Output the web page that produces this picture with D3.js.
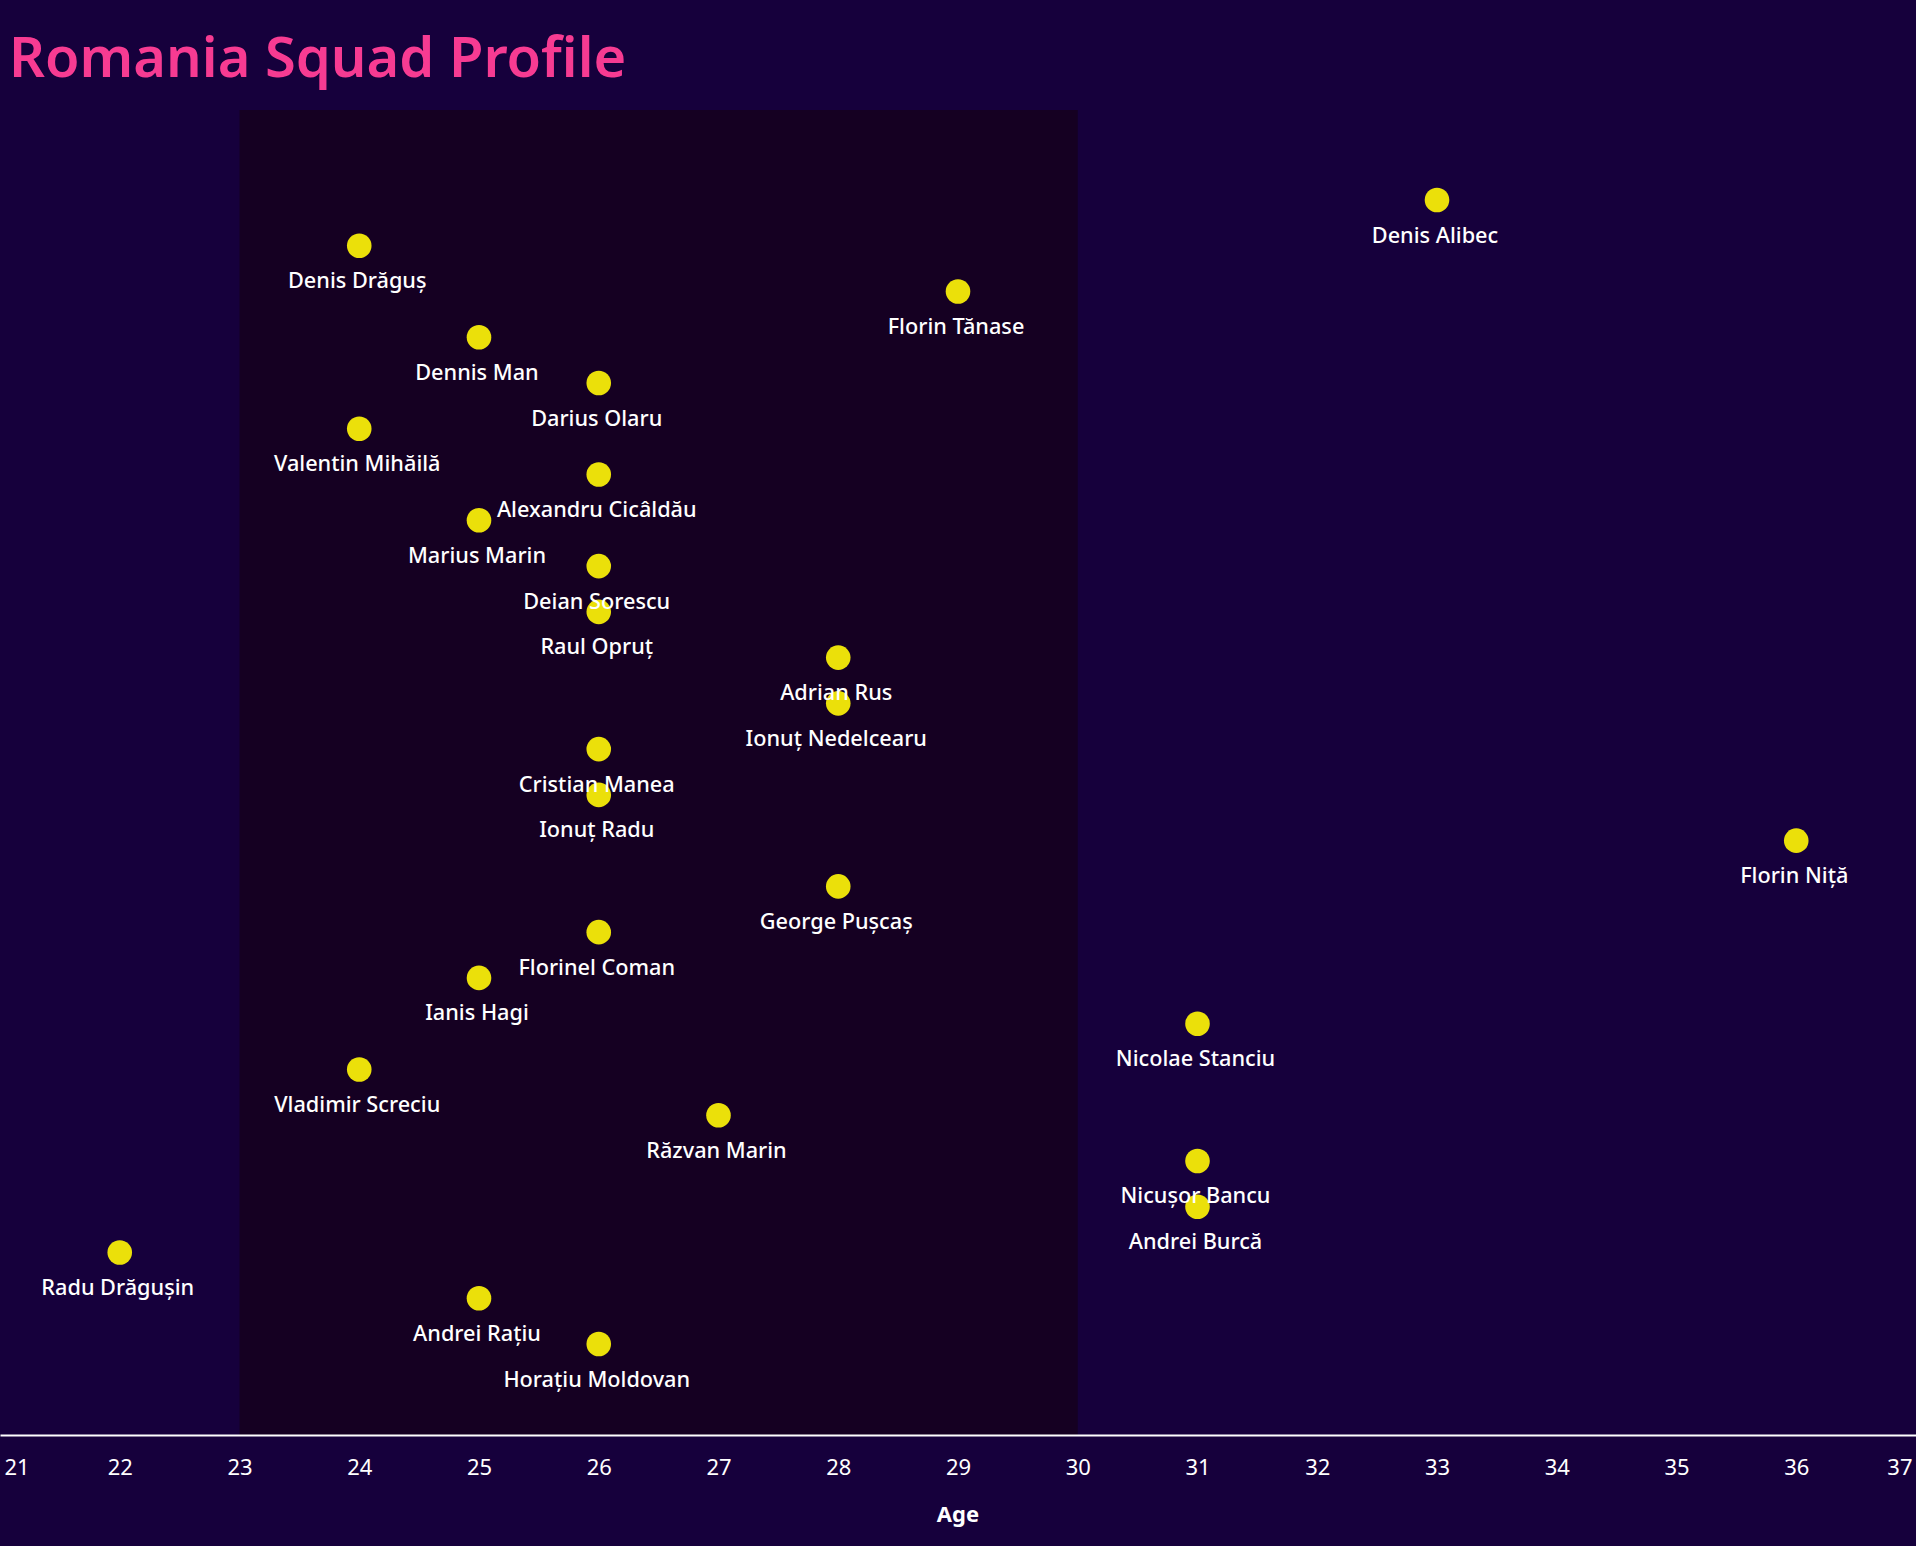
<!DOCTYPE html>
<html><head><meta charset="utf-8">
<script src="https://cdn.jsdelivr.net/npm/d3@7"></script>
<style>html,body{margin:0;padding:0;background:#16003c;}svg{display:block;}</style>
</head><body>
<svg id="c" width="1916" height="1546"></svg>
<script>
const players = ["Denis Alibec","Denis Drăguș","Florin Tănase","Dennis Man","Darius Olaru","Valentin Mihăilă","Alexandru Cicâldău","Marius Marin","Deian Sorescu","Raul Opruț","Adrian Rus","Ionuț Nedelcearu","Cristian Manea","Ionuț Radu","Florin Niță","George Pușcaș","Florinel Coman","Ianis Hagi","Nicolae Stanciu","Vladimir Screciu","Răzvan Marin","Nicușor Bancu","Andrei Burcă","Radu Drăgușin","Andrei Rațiu","Horațiu Moldovan"];
const ages = [33,24,29,25,26,24,26,25,26,26,28,28,26,26,36,28,26,25,31,24,27,31,31,22,25,26];
const ageTicks = [21,22,23,24,25,26,27,28,29,30,31,32,33,34,35,36,37];
const primeBand = [23,30];

const W=1916,H=1546;
const svg=d3.select("#c");
svg.append("rect").attr("width",W).attr("height",H).attr("fill","#16003c");
const x=d3.scaleLinear().domain([21,37]).range([0,1916]);
const y=d3.scalePoint().domain(players).range([200,1344]);
const axisY=1435;

svg.append("rect").attr("x",x(primeBand[0])).attr("y",110)
  .attr("width",x(primeBand[1])-x(primeBand[0])).attr("height",axisY-110)
  .attr("fill","#150022");

svg.append("text").attr("x",9).attr("y",77).attr("fill","#f73b92")
  .attr("font-family","Noto Sans").attr("font-size",56).attr("font-weight",600)
  .text("Romania Squad Profile");

const data=players.map((p,i)=>({name:p,age:ages[i]}));
const g=svg.append("g");
g.selectAll("circle").data(data).join("circle")
  .attr("cx",d=>x(d.age)).attr("cy",d=>y(d.name)).attr("r",12.3).attr("fill","#ebe00a");
g.selectAll("text.lbl").data(data).join("text").attr("class","lbl")
  .attr("x",d=>x(d.age)-2).attr("y",d=>y(d.name)+42.5).attr("text-anchor","middle")
  .attr("fill","#ffffff").attr("font-family","Noto Sans").attr("font-size",21.7).attr("font-weight",500)
  .text(d=>d.name);

const axis=d3.axisBottom(x).tickValues(ageTicks).tickSize(0).tickPadding(24).tickFormat(d3.format("d"));
const ag=svg.append("g").attr("transform",`translate(0,${axisY})`).call(axis);
ag.select(".domain").attr("stroke","#ffffff").attr("stroke-width",2);
ag.selectAll(".tick text").attr("fill","#ffffff").attr("font-family","Noto Sans").attr("font-size",22);
ag.selectAll(".tick").filter(d=>d===21).select("text").attr("text-anchor","start").attr("x",4);
ag.selectAll(".tick").filter(d=>d===37).select("text").attr("text-anchor","end").attr("x",-4);

svg.append("text").attr("x",W/2).attr("y",1522).attr("text-anchor","middle")
  .attr("fill","#ffffff").attr("font-family","Noto Sans").attr("font-weight","bold").attr("font-size",22)
  .text("Age");
</script>
</body></html>
